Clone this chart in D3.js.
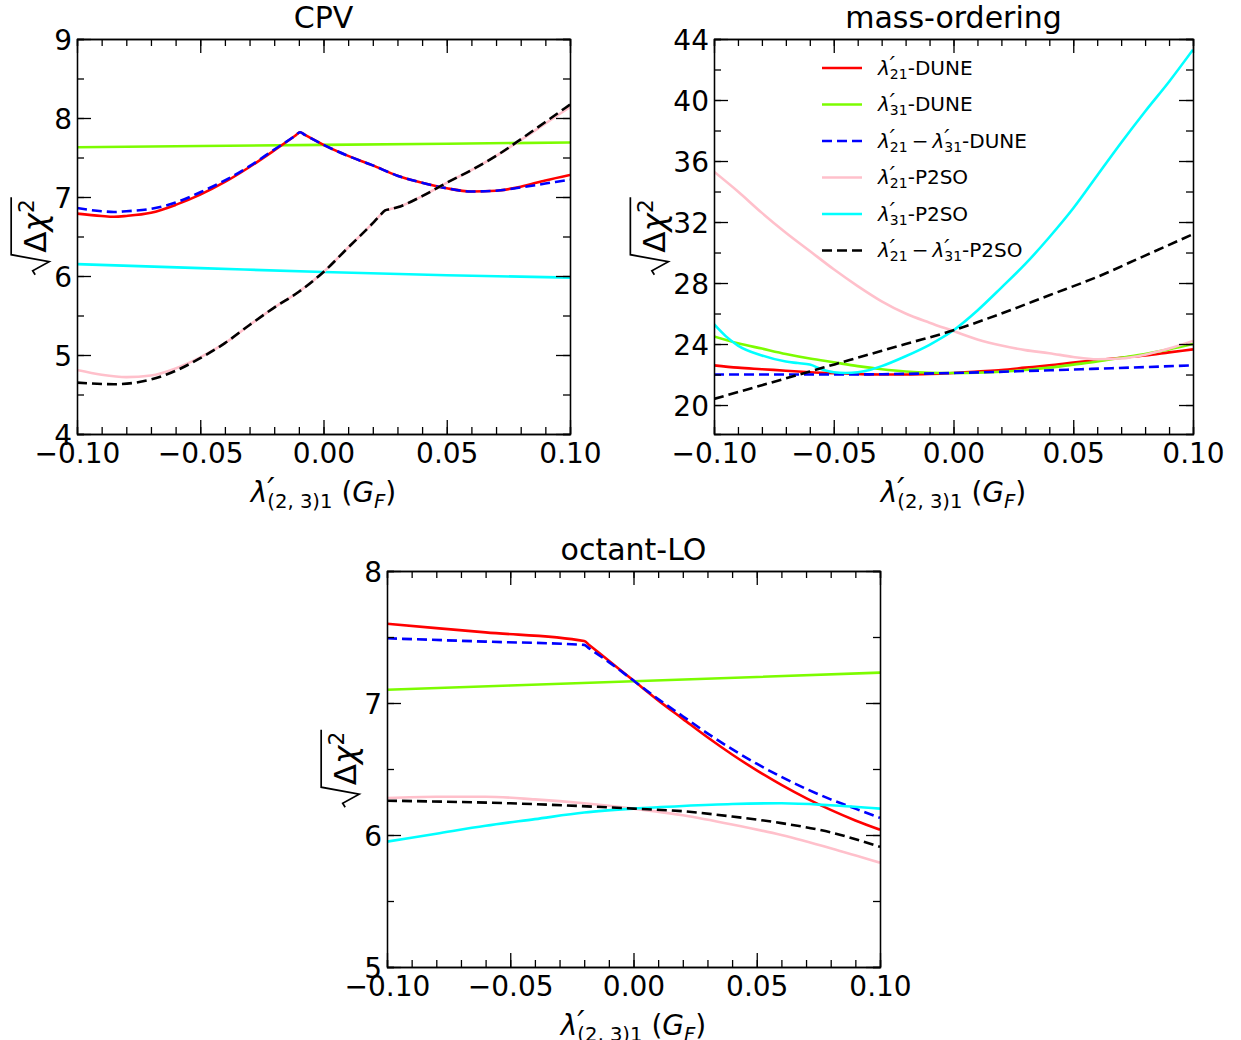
<!DOCTYPE html>
<html>
<head>
<meta charset="utf-8">
<script src="https://cdn.jsdelivr.net/npm/d3@7"></script>
<style>
  html, body { margin: 0; padding: 0; background: #fff; }
  svg { display: block; font-family: 'DejaVu Sans', sans-serif; }
  text { white-space: pre; }
</style>
</head>
<body>
<svg id="chart" width="1241" height="1040"></svg>
<script>
// ---------------- DATA ----------------
const gridX = [-0.10,-0.09,-0.08,-0.07,-0.06,-0.05,-0.04,-0.03,-0.02,-0.01,0.00,0.01,0.02,0.03,0.04,0.05,0.06,0.07,0.08,0.09,0.10];
const grid02X = [-0.10,-0.08,-0.06,-0.04,-0.02,0.00,0.02,0.04,0.06,0.08,0.10];

// CPV panel
const cpvRedX   = [-0.10,-0.09,-0.085,-0.08,-0.07,-0.06,-0.05,-0.04,-0.03,-0.02,-0.0115,-0.0095,-0.0075,0.00,0.01,0.02,0.03,0.04,0.05,0.06,0.07,0.08,0.09,0.10];
const cpvRedY   = [6.79,6.76,6.75,6.76,6.80,6.90,7.03,7.19,7.38,7.59,7.775,7.82,7.785,7.66,7.52,7.40,7.27,7.18,7.11,7.07,7.08,7.13,7.21,7.28];
const cpvBlueY  = [6.86,6.82,6.81,6.82,6.85,6.93,7.06,7.21,7.39,7.60,7.775,7.82,7.785,7.66,7.52,7.40,7.27,7.18,7.11,7.07,7.08,7.12,7.17,7.22];
const cpvGreenX = [-0.10,0.00,0.10];
const cpvGreenY = [7.63,7.66,7.69];
const cpvCyanX  = [-0.10,-0.05,0.00,0.05,0.10];
const cpvCyanY  = [6.15,6.10,6.05,6.01,5.98];
const cpvBlackX = [-0.10,-0.085,-0.07,-0.06,-0.05,-0.04,-0.03,-0.02,-0.01,0.00,0.01,0.02,0.023,0.025,0.027,0.03,0.04,0.05,0.06,0.07,0.08,0.09,0.10];
const cpvBlackY = [4.65,4.63,4.69,4.80,4.96,5.15,5.38,5.60,5.80,6.05,6.36,6.67,6.77,6.83,6.846,6.87,7.01,7.18,7.34,7.52,7.73,7.95,8.17];
const cpvPinkX  = [-0.10,-0.09,-0.08,-0.07,-0.06,-0.05,-0.04,-0.03,-0.02,-0.01,0.00,0.01,0.02,0.023,0.025,0.027,0.03,0.04,0.05,0.06,0.07,0.08,0.09,0.10];
const cpvPinkY  = [4.81,4.75,4.72,4.74,4.83,4.97,5.15,5.38,5.60,5.80,6.05,6.36,6.67,6.77,6.83,6.846,6.87,7.01,7.18,7.34,7.52,7.72,7.93,8.14];

// mass-ordering panel
const moRedY    = [22.60,22.45,22.35,22.25,22.15,22.08,22.03,22.00,22.00,22.03,22.10,22.20,22.30,22.45,22.60,22.78,22.95,23.10,23.25,23.45,23.65];
const moGreenY  = [24.50,24.05,23.70,23.35,23.05,22.80,22.55,22.35,22.20,22.12,22.10,22.12,22.18,22.30,22.45,22.65,22.85,23.10,23.35,23.65,24.00];
const moBlueX   = [-0.10,-0.05,0.00,0.05,0.10];
const moBlueY   = [22.00,22.00,22.10,22.33,22.60];
const moPinkY   = [35.30,34.00,32.60,31.30,30.10,28.90,27.80,26.80,26.00,25.40,24.85,24.30,23.90,23.60,23.40,23.15,23.00,23.05,23.30,23.70,24.20];
const moCyanX   = [-0.10,-0.095,-0.09,-0.08,-0.07,-0.065,-0.06,-0.055,-0.05,-0.045,-0.04,-0.035,-0.03,-0.02,-0.01,0.00,0.01,0.02,0.03,0.04,0.05,0.06,0.07,0.08,0.09,0.10];
const moCyanY   = [25.30,24.50,23.90,23.25,22.85,22.75,22.65,22.35,22.15,22.10,22.15,22.30,22.55,23.20,23.95,24.90,26.20,27.70,29.25,31.00,32.90,35.05,37.20,39.25,41.20,43.30];
const moBlackY  = [20.40,21.30,22.20,23.10,24.00,24.90,26.00,27.20,28.40,29.80,31.20];

// octant-LO panel
const olRedX    = [-0.10,-0.06,-0.02,-0.018,-0.01,0.00,0.01,0.02,0.03,0.04,0.05,0.06,0.07,0.08,0.09,0.10];
const olRedY    = [7.60,7.535,7.47,7.44,7.32,7.17,7.02,6.88,6.74,6.61,6.49,6.38,6.28,6.19,6.11,6.04];
const olBlueY   = [7.49,7.465,7.44,7.414,7.31,7.17,7.03,6.90,6.77,6.65,6.54,6.44,6.35,6.27,6.20,6.13];
const olGreenX  = [-0.10,0.00,0.10];
const olGreenY  = [7.10,7.165,7.23];
const olPinkY   = [6.28,6.29,6.29,6.27,6.24,6.20,6.15,6.08,6.00,5.90,5.79];
const olCyanY   = [5.95,6.01,6.07,6.12,6.17,6.20,6.22,6.235,6.24,6.225,6.20];
const olBlackX  = [-0.10,-0.05,0.00,0.02,0.04,0.06,0.08,0.10];
const olBlackY  = [6.26,6.24,6.20,6.18,6.14,6.09,6.02,5.91];

// axes / ticks
const xTicks = [-0.10,-0.05,0.00,0.05,0.10];
const cpvYTicks = [4,5,6,7,8,9];
const moYTicks  = [20,24,28,32,36,40,44];
const olYTicks  = [5,6,7,8];
const panelTitles = ["CPV","mass-ordering","octant-LO"];
const legendNames = ["21-DUNE","31-DUNE","21-31-DUNE","21-P2SO","31-P2SO","21-31-P2SO"];

// ---------------- STYLE ----------------
const series = [
  {key:"red",   color:"#ff0000", dash:null},
  {key:"green", color:"#7cfc00", dash:null},
  {key:"blue",  color:"#0000ff", dash:"10,5"},
  {key:"pink",  color:"#ffc0cb", dash:null},
  {key:"cyan",  color:"#00ffff", dash:null},
  {key:"black", color:"#000000", dash:"10,5"}
];
const zip = (xs, ys) => xs.map((x,i)=>[x, ys[i]]);

const panels = [
  {title: panelTitles[0], L:77, R:570, T:39, B:434, yDom:[4,9], yTicks:cpvYTicks, yMinorStep:0.5,
   data:{red:zip(cpvRedX,cpvRedY), green:zip(cpvGreenX,cpvGreenY), blue:zip(cpvRedX,cpvBlueY),
         pink:zip(cpvPinkX,cpvPinkY), cyan:zip(cpvCyanX,cpvCyanY), black:zip(cpvBlackX,cpvBlackY)},
   order:["green","cyan","red","blue","pink","black"]},
  {title: panelTitles[1], L:714, R:1193, T:39, B:434, yDom:[18.1,44], yTicks:moYTicks, yMinorStep:2, legend:true,
   data:{red:zip(gridX,moRedY), green:zip(gridX,moGreenY), blue:zip(moBlueX,moBlueY),
         pink:zip(gridX,moPinkY), cyan:zip(moCyanX,moCyanY), black:zip(grid02X,moBlackY)},
   order:["red","green","blue","pink","cyan","black"]},
  {title: panelTitles[2], L:387, R:880, T:571, B:967, yDom:[5,8], yTicks:olYTicks, yMinorStep:0.5,
   data:{red:zip(olRedX,olRedY), green:zip(olGreenX,olGreenY), blue:zip(olRedX,olBlueY),
         pink:zip(grid02X,olPinkY), cyan:zip(grid02X,olCyanY), black:zip(olBlackX,olBlackY)},
   order:["red","green","blue","pink","cyan","black"]}
];

const svg = d3.select("#chart");
svg.append("rect").attr("width",1241).attr("height",1040).attr("fill","#fff");

// math-like text builder
function mathText(parent, tokens, size) {
  const g = parent.append("g");
  let x = 0, supStart = 0, supEnd = 0;
  tokens.forEach(tok => {
    const pos = tok.pos || "b";
    let fs = size, dy = 0;
    if (pos === "sup") { fs = size*0.7; dy = -size*0.40; }
    if (pos === "sub") { fs = size*0.7; dy = size*0.22; }
    if (pos === "prime") { fs = size*1.15; dy = -size*0.06; }
    if (tok.stack) x = supStart;
    const t = g.append("text").attr("x", x).attr("y", dy)
      .attr("font-size", fs).attr("fill", "#000")
      .attr("font-style", tok.it ? "italic" : "normal")
      .attr("xml:space", "preserve")
      .text(tok.t);
    const w = t.node().getComputedTextLength();
    if (pos === "sup" || pos === "prime") { supStart = x; supEnd = x + w; x += w; }
    else { x += w; if (tok.stack) x = Math.max(x, supEnd); }
  });
  return {g, width: x};
}
function lambdaTokens(sub) {
  return [{t:"λ", it:true}, {t:"′", pos:"prime", it:true}, {t:sub, pos:"sub", stack:true}];
}
function legendTokens(name) {
  const parts = name.split("-");
  if (parts.length === 3) {
    return [...lambdaTokens(parts[0]), {t:"\u2009−\u2009"}, ...lambdaTokens(parts[1]), {t:"-" + parts[2]}];
  }
  return [...lambdaTokens(parts[0]), {t:"-" + parts[1]}];
}

const fmtX = d3.format(".2f");

panels.forEach((p, pi) => {
  const x = d3.scaleLinear().domain([-0.1, 0.1]).range([p.L, p.R]);
  const y = d3.scaleLinear().domain(p.yDom).range([p.B, p.T]);
  const g = svg.append("g");

  const clipId = "clip" + pi;
  svg.append("clipPath").attr("id", clipId).append("rect")
    .attr("x", p.L).attr("y", p.T).attr("width", p.R - p.L).attr("height", p.B - p.T);

  // lines
  const line = d3.line().x(d => x(d[0])).y(d => y(d[1])).curve(d3.curveMonotoneX);
  const lg = g.append("g").attr("clip-path", `url(#${clipId})`);
  p.order.forEach(k => {
    const s = series.find(s => s.key === k);
    lg.append("path").datum(p.data[k]).attr("d", line)
      .attr("fill", "none").attr("stroke", s.color).attr("stroke-width", 2.6)
      .attr("stroke-dasharray", s.dash);
  });

  // axes
  const xMinor = d3.range(-0.1, 0.1001, 0.01).map(v => +v.toFixed(3));
  const yMinor = d3.range(Math.ceil(p.yDom[0]/p.yMinorStep)*p.yMinorStep, p.yDom[1]+1e-6, p.yMinorStep);
  const styleAxis = sel => {
    sel.selectAll(".domain").attr("stroke", "#000").attr("stroke-width", 1.3);
    sel.selectAll(".tick line").attr("stroke", "#000").attr("stroke-width", 1.3);
    sel.selectAll("text").attr("font-size", 28).attr("font-family", "'DejaVu Sans', sans-serif").attr("fill", "#000");
  };
  const ax = g.append("g");
  // minor
  ax.append("g").attr("transform", `translate(0,${p.B})`)
    .call(d3.axisBottom(x).tickValues(xMinor).tickSize(-7).tickFormat("")).call(styleAxis);
  ax.append("g").attr("transform", `translate(0,${p.T})`)
    .call(d3.axisTop(x).tickValues(xMinor).tickSize(-7).tickFormat("")).call(styleAxis);
  ax.append("g").attr("transform", `translate(${p.L},0)`)
    .call(d3.axisLeft(y).tickValues(yMinor).tickSize(-7).tickFormat("")).call(styleAxis);
  ax.append("g").attr("transform", `translate(${p.R},0)`)
    .call(d3.axisRight(y).tickValues(yMinor).tickSize(-7).tickFormat("")).call(styleAxis);
  // major
  ax.append("g").attr("transform", `translate(0,${p.B})`)
    .call(d3.axisBottom(x).tickValues(xTicks).tickSize(-14).tickSizeOuter(0).tickPadding(9.6).tickFormat(fmtX)).call(styleAxis);
  ax.append("g").attr("transform", `translate(0,${p.T})`)
    .call(d3.axisTop(x).tickValues(xTicks).tickSize(-14).tickSizeOuter(0).tickFormat("")).call(styleAxis);
  const yAx = ax.append("g").attr("transform", `translate(${p.L},0)`)
    .call(d3.axisLeft(y).tickValues(p.yTicks).tickSize(-14).tickSizeOuter(0).tickPadding(5).tickFormat(d3.format("d"))).call(styleAxis);
  yAx.selectAll("text").attr("dy", "0.36em");
  ax.append("g").attr("transform", `translate(${p.R},0)`)
    .call(d3.axisRight(y).tickValues(p.yTicks).tickSize(-14).tickSizeOuter(0).tickFormat("")).call(styleAxis);

  // title
  g.append("text").attr("x", (p.L + p.R)/2).attr("y", p.T - 11)
    .attr("text-anchor", "middle").attr("font-size", 30).attr("fill", "#000").text(p.title);

  // x label
  const xl = mathText(g, [{t:"λ", it:true}, {t:"′", pos:"prime", it:true}, {t:"(2, 3)1", pos:"sub", stack:true},
                          {t:" ("}, {t:"G", it:true}, {t:"F", it:true, pos:"sub"}, {t:")"}], 28);
  xl.g.attr("transform", `translate(${(p.L + p.R)/2 - xl.width/2},${p.B + 68})`);

  // y label
  let maxW = 0;
  yAx.selectAll("text").each(function(){ maxW = Math.max(maxW, this.getComputedTextLength()); });
  const bx = p.L - 5 - maxW - 8;
  const cy = (p.T + p.B)/2;
  const yg = g.append("g").attr("transform", `translate(${bx},${cy}) rotate(-90)`);
  const inner = yg.append("g");
  const yl = mathText(inner, [{t:"Δ"}, {t:"χ", it:true}, {t:"2", pos:"sup"}], 31);
  const radW = 22;
  const total = radW + yl.width + 3;
  const u0 = -total/2 + radW;
  yl.g.attr("transform", `translate(${u0 + 1},0)`);
  const uEnd = u0 + yl.width + 3;
  inner.append("path")
    .attr("d", `M${u0-21},-11 L${u0-17},-13.5 L${u0-8},3 L${u0-1},-35 L${uEnd},-35`)
    .attr("fill", "none").attr("stroke", "#000").attr("stroke-width", 1.7).attr("stroke-linejoin", "miter");

  // legend
  if (p.legend) {
    const lgd = g.append("g");
    series.forEach((s, i) => {
      const yy = 68 + i*36.5;
      lgd.append("line").attr("x1", 822).attr("x2", 862).attr("y1", yy).attr("y2", yy)
        .attr("stroke", s.color).attr("stroke-width", 2.6).attr("stroke-dasharray", s.dash);
      const t = mathText(lgd, legendTokens(legendNames[i]), 20);
      t.g.attr("transform", `translate(878,${yy + 6.5})`);
    });
  }
});
</script>
</body>
</html>
